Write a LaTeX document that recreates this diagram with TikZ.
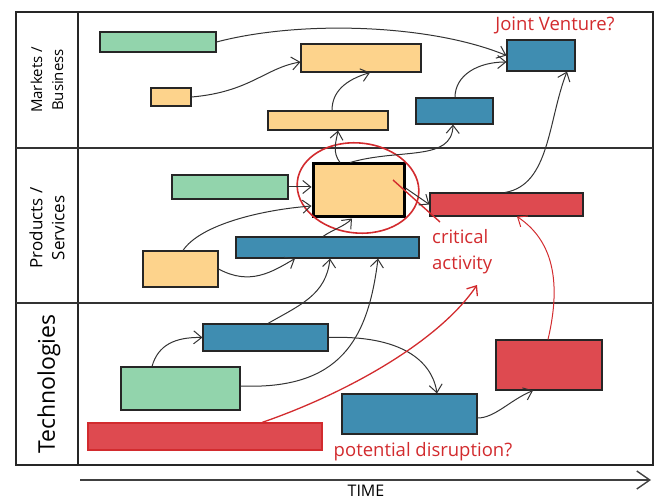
\documentclass[tikz,border=0pt]{standalone}
\usepackage{fontspec}
\setmainfont{Open Sans}
\usetikzlibrary{arrows.meta}
\usetikzlibrary{fit}
\usetikzlibrary{positioning}
\usetikzlibrary{shapes.geometric}

\definecolor{barGreen}{HTML}{92D4AC}
\definecolor{barOrange}{HTML}{FDD38C}
\definecolor{barBlue}{HTML}{3F8DB1}
\definecolor{barRed}{HTML}{DE4A50}
\definecolor{noteRed}{HTML}{D22B2E}

\tikzset{
  bar/.style={draw=black!85,line width=1.1pt,rectangle,inner sep=0pt},
  gbar/.style={bar,fill=barGreen},
  obar/.style={bar,fill=barOrange},
  bbar/.style={bar,fill=barBlue},
  rbar/.style={bar,fill=barRed},
  link/.style={draw=black!80,line width=1pt,->,>={Straight Barb[length=8pt,width=13pt]}},
  redlink/.style={link,draw=noteRed},
  note/.style={text=noteRed,font=\fontsize{18.5}{26}\selectfont,inner sep=0pt},
  lane/.style={rotate=90,align=center,inner sep=0pt},
}

\begin{document}
\begin{tikzpicture}[x=1pt,y=-1pt]
  \useasboundingbox (0,0) rectangle (660,502);

  % lanes
  \draw [line width=1.2pt,black!85] (16,12) rectangle (653,465);
  \draw [line width=1.2pt,black!85] (78,12) -- (78,465);
  \draw [line width=1.1pt,black!80] (16,148) -- (653,148) (16,303) -- (653,303);

  \node [lane,font=\fontsize{15}{21}\selectfont] (lanemkt) at (47,80)  {Markets /\\Business};
  \node [lane,font=\fontsize{17}{22}\selectfont] (laneprd) at (47,228) {Products /\\Services};
  \node [lane,font=\fontsize{23}{24}\selectfont] (lanetec) at (49,384) {Technologies};

  % markets / business
  \node [gbar,fit={(100,32) (216,52)}]   (mkt1) {};
  \node [obar,fit={(151,88) (191,106)}]  (mkt2) {};
  \node [obar,fit={(301,44) (421,72)}]   (mkt3) {};
  \node [obar,fit={(268,111) (388,130)}] (mkt4) {};
  \node [bbar,fit={(416,98) (493,124)}]  (mkt5) {};
  \node [bbar,fit={(507,40) (575,71)}]   (mkt6) {};
  \node [note,anchor=base] (jvlab) at (555,31) {Joint Venture?};

  % products / services
  \node [gbar,fit={(172,175) (288,199)}]  (prd1) {};
  \node [obar,fit={(313,164) (404,217)},line width=3pt,draw=black] (prd2) {};
  \node [rbar,fit={(430,193) (583,216)}]  (prd3) {};
  \node [bbar,fit={(236,237) (419,258)}]  (prd4) {};
  \node [obar,fit={(143,251) (218,287)}]  (prd5) {};

  \node [draw=noteRed,line width=1.6pt,ellipse,rotate=-6,minimum width=122pt,minimum height=90pt] (crit) at (358,188) {};
  \coordinate (critA) at (393,180);
  \coordinate (critB) at (440,222);
  \draw [noteRed,line width=1.4pt] (critA) -- (critB);
  \node [note,anchor=north west,align=left] (critlab) at (432,229) {critical\\activity};

  % technologies
  \node [bbar,fit={(203,324) (328,351)}] (tec1) {};
  \node [gbar,fit={(121,367) (240,410)}] (tec2) {};
  \node [rbar,fit={(88,423) (322,450)},draw=noteRed] (tec3) {};
  \node [bbar,fit={(342,394) (477,434)}] (tec4) {};
  \node [rbar,fit={(496,340) (602,390)}] (tec5) {};
  \node [note,anchor=base] (disrlab) at (423,456) {potential disruption?};

  % dependencies
  \draw [link] (mkt1.east) .. controls (300,20) and (430,24) .. (mkt6.west);
  \draw [link] (mkt2.east) .. controls (250,92) and (265,68) .. (mkt3.west |- 0,62);
  \draw [link] (332,0 |- mkt4.north) .. controls (332,92) and (345,80) .. (370,0 |- mkt3.south);
  \draw [link] (340,0 |- prd2.north) .. controls (332,152) and (336,142) .. (338,0 |- mkt4.south);
  \draw [link] (350,0 |- prd2.north) .. controls (400,148) and (452,162) .. (453,0 |- mkt5.south);
  \draw [link] (455,0 |- mkt5.north) .. controls (455,75) and (478,62) .. (mkt6.west |- 0,62);
  \draw [link] (505,0 |- prd3.north) .. controls (550,185) and (548,120) .. (567,0 |- mkt6.south);

  \draw [link] (prd1.east) -- (prd2.west |- prd1.east);
  \draw [link] (183,0 |- prd5.north) .. controls (200,225) and (260,210) .. (prd2.west |- 0,206);
  \draw [link] (prd5.east) .. controls (250,286) and (272,272) .. (295,0 |- prd4.south);
  \draw [link] (323,0 |- prd4.north) .. controls (332,230) and (345,226) .. (352,0 |- prd2.south);
  \draw [link] (prd2.east |- 0,188) -- (prd3.west);

  \draw [link] (268,0 |- tec1.north) .. controls (300,305) and (326,295) .. (330,0 |- prd4.south);
  \draw [link] (152,0 |- tec2.north) .. controls (158,345) and (175,337) .. (tec1.west);
  \draw [link] (tec2.east |- 0,386) .. controls (340,390) and (368,340) .. (378,0 |- prd4.south);
  \draw [link] (tec1.east) .. controls (400,335) and (432,360) .. (437,0 |- tec4.north);
  \draw [link] (tec4.east |- 0,418) .. controls (495,418) and (510,400) .. (533,0 |- tec5.south);

  % disruption
  \coordinate (disrtip) at (477,285);
  \draw [redlink,line width=1.3pt] (262,0 |- tec3.north) .. controls (350,392) and (440,340) .. (disrtip);
  \draw [redlink] (548,0 |- tec5.north) .. controls (562,280) and (552,240) .. (517,0 |- prd3.south);

  % time axis
  \coordinate (tstart) at (80,480);
  \coordinate (tend) at (651,480);
  \draw [line width=1.4pt,black!75,->,>={Straight Barb[length=13pt,width=18pt]}] (tstart) -- (tend);
  \node [font=\fontsize{16}{18}\selectfont,anchor=base] (timelab) at (366,496) {TIME};

\end{tikzpicture}
\end{document}
